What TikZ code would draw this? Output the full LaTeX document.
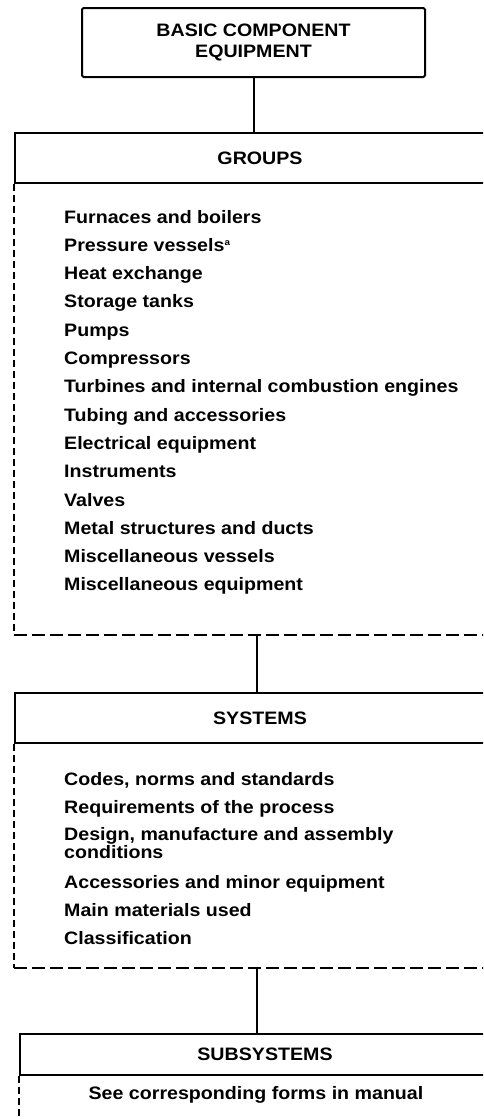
\documentclass[tikz,border=0pt]{standalone}
\usepackage{fontspec}
\setmainfont[FakeStretch=1.09]{Liberation Sans}
\usetikzlibrary{positioning}

\tikzset{
  every node/.style={font=\fontsize{18}{21}\selectfont\bfseries},
  box/.style={draw, line width=2pt, rounded corners=1.5pt, align=center, inner sep=0pt},
  head/.style={draw, line width=2pt, minimum width=490, inner sep=0pt, anchor=north west},
  item/.style={anchor=base west, inner sep=0pt, align=left, font=\fontsize{18}{16}\selectfont\bfseries},
  link/.style={line width=2pt},
  dashv/.style={line width=2pt, dash pattern=on 7pt off 4pt},
  dashh/.style={line width=2pt, dash pattern=on 13pt off 5pt},
}

\begin{document}
\begin{tikzpicture}[x=1pt,y=1pt]
  \useasboundingbox (0,0) rectangle (483,-1119);
  \clip (0,0) rectangle (483,-1119);

  % top box
  \node[box, minimum width=343, minimum height=69] (basic) at (253.5,-42.5) {BASIC COMPONENT\\EQUIPMENT};

  % groups
  \node[head, minimum height=50] (groups) at (14,-132) {GROUPS};
  \draw[link] (basic.south) -- (basic.south |- groups.north);
  \foreach [count=\i] \t in {Furnaces and boilers, Pressure vessels\textsuperscript{\fontsize{9}{9}\selectfont a}, Heat exchange,
      Storage tanks, Pumps, Compressors, Turbines and internal combustion engines,
      Tubing and accessories, Electrical equipment, Instruments, Valves,
      Metal structures and ducts, Miscellaneous vessels, Miscellaneous equipment}
    \node[item] (g\i) at (64,{-223-28.3*(\i-1)}) {\t};
  \coordinate (gend) at (14,-635);
  \coordinate (gmid) at (257,-635);
  \draw[dashv] (groups.south west) -- (gend);
  \draw[dashh] (gend) -- ++(480,0);

  % systems
  \node[head, minimum height=50] (systems) at (14,-692) {SYSTEMS};
  \draw[link] (gmid) -- (gmid |- systems.north);
  \foreach \n/\y/\t in {s1/785/{Codes, norms and standards},
      s2/813/{Requirements of the process},
      s3/858/{Design, manufacture and assembly\\conditions},
      s4/888/{Accessories and minor equipment},
      s5/916/{Main materials used},
      s6/944/{Classification}}
    \node[item] (\n) at (64,-\y) {\t};
  \coordinate (send) at (14,-968);
  \coordinate (smid) at (257,-968);
  \draw[dashv] (systems.south west) -- (send);
  \draw[dashh] (send) -- ++(480,0);

  % subsystems
  \node[head, minimum height=41] (subsys) at (19,-1033) {SUBSYSTEMS};
  \draw[link] (smid) -- (smid |- subsys.north);
  \node (manual) at (256,-1095) {See corresponding forms in manual};
  \draw[dashv] (subsys.south west) -- ++(0,-60);
\end{tikzpicture}
\end{document}
